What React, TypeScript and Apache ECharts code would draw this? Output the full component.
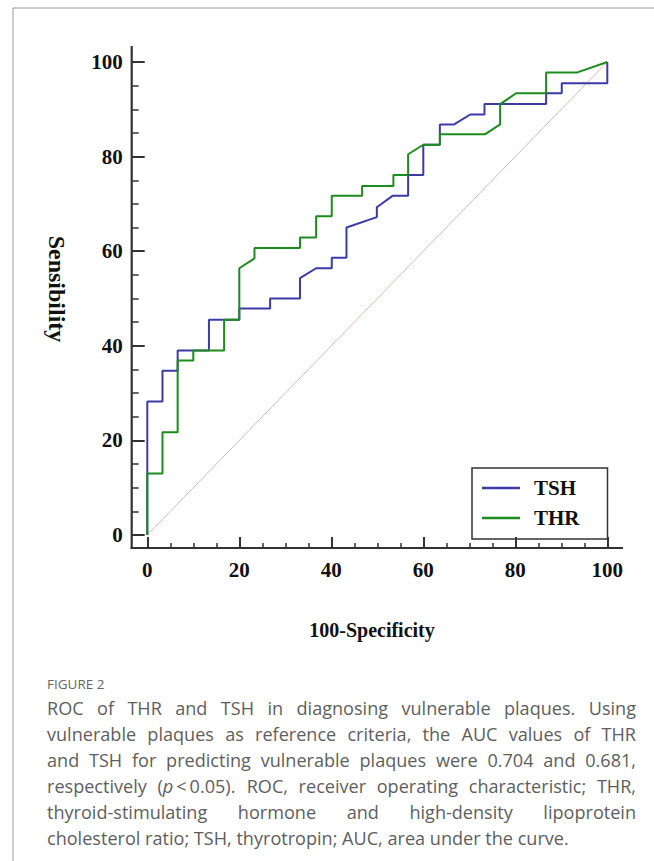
import React, { useEffect, useRef } from 'react';
import * as echarts from 'echarts';

// ---- data ----
const seriesNames = ['TSH', 'THR'];
const tshFpr = [0, 0, 3.3, 3.3, 6.6, 6.6, 13.4, 13.4, 20, 20, 26.7, 26.7, 33.2, 33.2, 36.7, 40.1, 40.1, 43.3, 43.3, 49.9, 49.9, 53.3, 56.7, 56.7, 60, 60, 63.6, 63.6, 66.7, 70.2, 73.3, 73.3, 86.7, 86.7, 90.1, 90.1, 100, 100];
const tshSens = [0, 28.2, 28.2, 34.7, 34.7, 39, 39, 45.5, 45.5, 47.9, 47.9, 50, 50, 54.3, 56.4, 56.4, 58.6, 58.6, 65, 67.2, 69.3, 71.7, 71.7, 76.1, 76.1, 82.5, 82.5, 86.8, 86.8, 88.9, 88.9, 91.1, 91.1, 93.4, 93.4, 95.5, 95.5, 100];
const thrFpr = [0, 0, 3.3, 3.3, 6.6, 6.6, 10, 10, 16.7, 16.7, 20, 20, 23.3, 23.3, 33.2, 33.2, 36.7, 36.7, 40.1, 40.1, 46.7, 46.7, 53.5, 53.5, 56.7, 56.7, 60, 63.6, 63.6, 73.4, 76.7, 76.7, 80.2, 86.7, 86.7, 93.5, 100];
const thrSens = [0, 13, 13, 21.7, 21.7, 36.9, 36.9, 39, 39, 45.5, 45.5, 56.4, 58.5, 60.7, 60.7, 62.9, 62.9, 67.4, 67.4, 71.7, 71.7, 73.8, 73.8, 76.1, 76.1, 80.5, 82.5, 82.5, 84.7, 84.7, 86.8, 91.1, 93.4, 93.4, 97.8, 97.8, 100];
const diagX = [0, 100];
const diagY = [0, 100];
const axisTicks = [0, 20, 40, 60, 80, 100];

const xAxisName = '100-Specificity';
const yAxisName = 'Sensibility';
const figureLabel = 'FIGURE 2';
const captionLines = [
  'ROC of THR and TSH in diagnosing vulnerable plaques. Using',
  'vulnerable plaques as reference criteria, the AUC values of THR',
  'and TSH for predicting vulnerable plaques were 0.704 and 0.681,',
  'respectively (p\u2009<\u20090.05). ROC, receiver operating characteristic; THR,',
  'thyroid-stimulating hormone and high-density lipoprotein',
  'cholesterol ratio; TSH, thyrotropin; AUC, area under the curve.',
];

const zip = (xs: number[], ys: number[]) => xs.map((x, i) => [x, ys[i]]);

const BLUE = '#3b3ba8';
const GREEN = '#1c8c1c';
const AXIS = '#333333';
const SERIF = '"Liberation Serif", "Times New Roman", serif';
const SANS = '"Open Sans", "Noto Sans", sans-serif';
const CAPTION_COLOR = '#5e5e5e';

function wordStyle(w: string, size: number) {
  const base: any = { fontFamily: SANS, fontSize: size, fill: CAPTION_COLOR, verticalAlign: 'middle' };
  if (w.startsWith('(p')) {
    return {
      ...base,
      text: '(' + '{i|p}' + w.slice(2),
      rich: { i: { fontFamily: SANS, fontSize: size, fontStyle: 'italic', fill: CAPTION_COLOR, verticalAlign: 'middle' } },
    };
  }
  return { ...base, text: w };
}

function buildCaption(): any[] {
  const left = 47;
  const right = 636;
  const ctx = document.createElement('canvas').getContext('2d') as CanvasRenderingContext2D;
  ctx.font = `16px ${SANS}`;
  const w6 = ctx.measureText(captionLines[5]).width || 500;
  const size = Math.max(14, Math.min(19, (16 * 522) / w6));
  ctx.font = `${size}px ${SANS}`;
  const els: any[] = [];
  captionLines.forEach((line, li) => {
    const y = 708 + li * 26;
    if (li === captionLines.length - 1) {
      els.push({ type: 'text', x: left, y, style: wordStyle(line, size) });
      return;
    }
    const words = line.split(' ');
    const widths = words.map((w) => ctx.measureText(w).width);
    const total = widths.reduce((a, b) => a + b, 0);
    const gap = (right - left - total) / (words.length - 1);
    let x = left;
    words.forEach((w, i) => {
      els.push({ type: 'text', x, y, style: wordStyle(w, size) });
      x += widths[i] + gap;
    });
  });
  return els;
}

export default function App() {
  const ref = useRef<HTMLDivElement>(null);
  useEffect(() => {
    if (!ref.current) return;
    const chart = echarts.init(ref.current, undefined, { renderer: 'svg' });
    const gridLeft = 147.3;
    const gridTop = 62;
    const gridW = 460;
    const gridH = 473;
    const yAxisX = 131.7;
    const xAxisY = 548;

    const axisCommon = {
      type: 'value' as const,
      min: axisTicks[0],
      max: axisTicks[axisTicks.length - 1],
      interval: axisTicks[1] - axisTicks[0],
      axisLine: { show: false, onZero: false },
      splitLine: { show: false },
      minorTick: { show: true, splitNumber: 4, lineStyle: { color: AXIS, width: 1.5 } },
      axisLabel: { fontFamily: SERIF, fontWeight: 'bold' as const, fontSize: 21, color: '#111' },
    };

    chart.setOption({
      animation: false,
      backgroundColor: '#ffffff',
      grid: { left: gridLeft, top: gridTop, width: gridW, height: gridH, containLabel: false },
      xAxis: {
        ...axisCommon,
        position: 'bottom',
        offset: xAxisY - (gridTop + gridH),
        axisTick: { inside: true, length: 11, lineStyle: { color: AXIS, width: 2 } },
        minorTick: { ...axisCommon.minorTick, length: 5 },
        axisLabel: { ...axisCommon.axisLabel, margin: 11 },
      },
      yAxis: {
        ...axisCommon,
        position: 'left',
        offset: gridLeft - yAxisX,
        axisTick: { inside: true, length: 13, lineStyle: { color: AXIS, width: 2 } },
        minorTick: { ...axisCommon.minorTick, length: 7 },
        axisLabel: { ...axisCommon.axisLabel, margin: 9 },
      },
      legend: {
        orient: 'vertical',
        left: 472,
        top: 468,
        data: seriesNames.map((n) => ({ name: n, icon: 'rect' })),
        itemWidth: 38,
        itemHeight: 2.5,
        itemGap: 9,
        padding: [9.5, 28, 10.5, 10],
        borderColor: AXIS,
        borderWidth: 1.5,
        selectedMode: false,
        textStyle: { fontFamily: SERIF, fontWeight: 'bold', fontSize: 21, color: '#111', lineHeight: 19, padding: [0, 0, 0, 9] },
      },
      series: [
        {
          name: 'diagonal',
          type: 'line',
          data: zip(diagX, diagY),
          showSymbol: false,
          silent: true,
          clip: false,
          lineStyle: { color: '#dfb5b5', width: 1 },
          z: 1,
        },
        {
          name: seriesNames[0],
          type: 'line',
          data: zip(tshFpr, tshSens),
          showSymbol: false,
          clip: false,
          color: BLUE,
          lineStyle: { color: BLUE, width: 2 },
          z: 2,
        },
        {
          name: seriesNames[1],
          type: 'line',
          data: zip(thrFpr, thrSens),
          showSymbol: false,
          clip: false,
          color: GREEN,
          lineStyle: { color: GREEN, width: 2 },
          z: 3,
        },
      ],
      graphic: [
        // page border (left and top)
        { type: 'line', shape: { x1: 13, y1: 8, x2: 13, y2: 861 }, style: { stroke: '#9a9a9a', lineWidth: 1 } },
        { type: 'line', shape: { x1: 13, y1: 8, x2: 654, y2: 8 }, style: { stroke: '#9a9a9a', lineWidth: 1 } },
        // axis lines (extend past the data range as in the reference)
        { type: 'line', shape: { x1: yAxisX, y1: 46, x2: yAxisX, y2: xAxisY + 1 }, style: { stroke: AXIS, lineWidth: 2.2 } },
        { type: 'line', shape: { x1: yAxisX - 1, y1: xAxisY, x2: 623, y2: xAxisY }, style: { stroke: AXIS, lineWidth: 2.2 } },
        // axis names
        { type: 'text', x: 372, y: 630, style: { text: xAxisName, fontFamily: SERIF, fontWeight: 'bold', fontSize: 20, fill: '#111', align: 'center', verticalAlign: 'middle' } },
        { type: 'text', x: 57, y: 289, rotation: -Math.PI / 2, style: { text: yAxisName, fontFamily: SERIF, fontWeight: 'bold', fontSize: 24, fill: '#111', align: 'center', verticalAlign: 'middle' } },
        // caption
        { type: 'text', x: 47, y: 684, style: { text: figureLabel, fontFamily: SANS, fontSize: 13.5, fill: '#666', verticalAlign: 'middle' } },
        ...buildCaption(),
      ],
    });
    return () => chart.dispose();
  }, []);
  return <div ref={ref} style={{ position: 'absolute', left: 0, top: 0, width: 654, height: 861, background: '#fff' }} />;
}
